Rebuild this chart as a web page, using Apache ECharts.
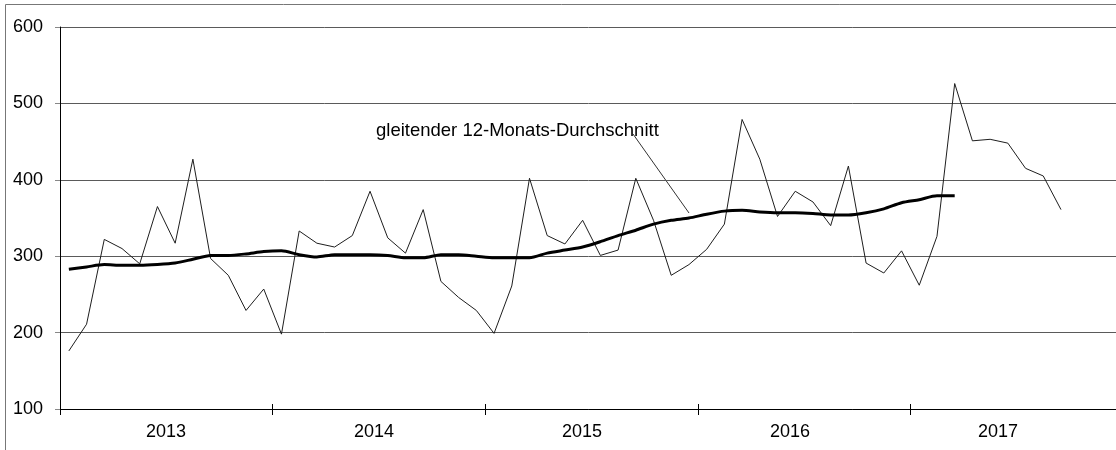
<!DOCTYPE html>
<html>
<head>
<meta charset="utf-8">
<script src="https://cdn.jsdelivr.net/npm/echarts@6/dist/echarts.min.js"></script>
<style>
  html, body { margin: 0; padding: 0; background: #fff; }
  #main { width: 1116px; height: 450px; }
</style>
</head>
<body>
<div id="main"></div>
<script>
// Jahre auf der x-Achse
const years = ['2013', '2014', '2015', '2016', '2017'];

// Monatswerte (Jan 2013 - Sep 2017)
const monthly = [
  176, 211, 322, 310, 290, 365, 317, 427, 297, 275, 229, 257,
  198, 333, 317, 312, 327, 385, 324, 304, 361, 267, 246, 229,
  199, 261, 402, 327, 316, 347, 301, 308, 402, 347, 275, 289,
  309, 342, 479, 427, 352, 385, 371, 340, 418, 291, 278, 307,
  262, 326, 526, 451, 453, 448, 415, 405, 361
];

// gleitender 12-Monats-Durchschnitt (Jan 2013 - Mar 2017)
const movingAvg = [
  283, 286, 289, 288, 288, 289, 291, 296, 301, 301, 303, 306,
  307, 302, 299, 302, 302, 302, 301, 298, 298, 302, 302, 300,
  298, 298, 298, 304, 308, 312, 319, 327, 334, 342, 347, 350,
  355, 359, 360, 358, 357, 357, 356, 354, 354, 357, 362, 370,
  374, 379, 379
];

const yTicks = [100, 200, 300, 400, 500, 600];

// 12 Monate je Jahr
const months = [];
years.forEach(y => { for (let m = 1; m <= 12; m++) months.push(y + '-' + m); });

const font = "'Liberation Sans', Arial, sans-serif";
const chart = echarts.init(document.getElementById('main'));

// Plotflaeche ist rechts abgeschnitten, daher right < 0
const plotBox = { left: 60, top: 27, bottom: 41, right: -7, outerBoundsMode: 'none' };
// Jahresbeschriftung sitzt etwas enger als die Jahresbloecke
const labelBox = { left: 62, top: 27, bottom: 41, right: 14, outerBoundsMode: 'none' };

const hiddenY = (gi) => ({ type: 'value', gridIndex: gi, min: 100, max: 600, show: false, splitLine: { show: false } });

const option = {
  animation: false,
  backgroundColor: '#fff',
  grid: [plotBox, Object.assign({}, plotBox), labelBox],
  xAxis: [
    {
      // Monate, nur fuer die Daten
      type: 'category', data: months, gridIndex: 0,
      boundaryGap: true, position: 'top', show: false
    },
    {
      // Jahre: Achsenlinie + Striche nach innen
      type: 'category', data: years, gridIndex: 0, position: 'bottom',
      boundaryGap: true,
      axisLine: { lineStyle: { color: '#000', width: 1 } },
      axisTick: { show: true, inside: true, length: 5, interval: 0, lineStyle: { color: '#000' } },
      axisLabel: { show: false },
      splitLine: { show: false }
    },
    {
      // Jahre: Striche nach aussen
      type: 'category', data: years, gridIndex: 1, position: 'bottom',
      boundaryGap: true,
      axisLine: { show: false },
      axisTick: { show: true, length: 6, interval: 0, lineStyle: { color: '#000' } },
      axisLabel: { show: false },
      splitLine: { show: false }
    },
    {
      // Jahre: Beschriftung
      type: 'category', data: years, gridIndex: 2, position: 'bottom',
      boundaryGap: true,
      axisLine: { show: false },
      axisTick: { show: false },
      axisLabel: { interval: 0, margin: 14, color: '#000', fontSize: 18, fontFamily: font },
      splitLine: { show: false }
    }
  ],
  yAxis: [
    {
      type: 'value', gridIndex: 0,
      min: yTicks[0], max: yTicks[yTicks.length - 1], interval: 100,
      axisLine: { show: true, lineStyle: { color: '#000' } },
      axisTick: { show: true, length: 5, lineStyle: { color: '#888' } },
      axisLabel: { margin: 17, color: '#000', fontSize: 18, fontFamily: font },
      splitLine: { lineStyle: { color: '#5a5a5a', width: 1 } }
    },
    hiddenY(1),
    hiddenY(2)
  ],
  series: [
    {
      name: 'Monatswerte',
      type: 'line',
      xAxisIndex: 0, yAxisIndex: 0,
      data: monthly,
      symbol: 'none',
      lineStyle: { color: '#1e1e1e', width: 1 },
      z: 3
    },
    {
      name: 'gleitender 12-Monats-Durchschnitt',
      type: 'line',
      xAxisIndex: 0, yAxisIndex: 0,
      data: movingAvg,
      symbol: 'none',
      smooth: 0.25,
      lineStyle: { color: '#000', width: 3 },
      z: 4
    }
  ],
  graphic: [
    {
      // Rahmen (rechts/unten abgeschnitten)
      type: 'rect', silent: true, z: -10,
      shape: { x: 5.5, y: 4.5, width: 1200, height: 600 },
      style: { fill: null, stroke: '#777', lineWidth: 1 }
    },
    {
      type: 'text', left: 376, top: 121, silent: true,
      style: { text: 'gleitender 12-Monats-Durchschnitt', fontSize: 18.5, fontFamily: font, fill: '#000' }
    },
    {
      type: 'line', silent: true,
      shape: { x1: 633, y1: 134, x2: 689, y2: 213 },
      style: { stroke: '#333', lineWidth: 1 }
    }
  ]
};

chart.setOption(option);
</script>
</body>
</html>
